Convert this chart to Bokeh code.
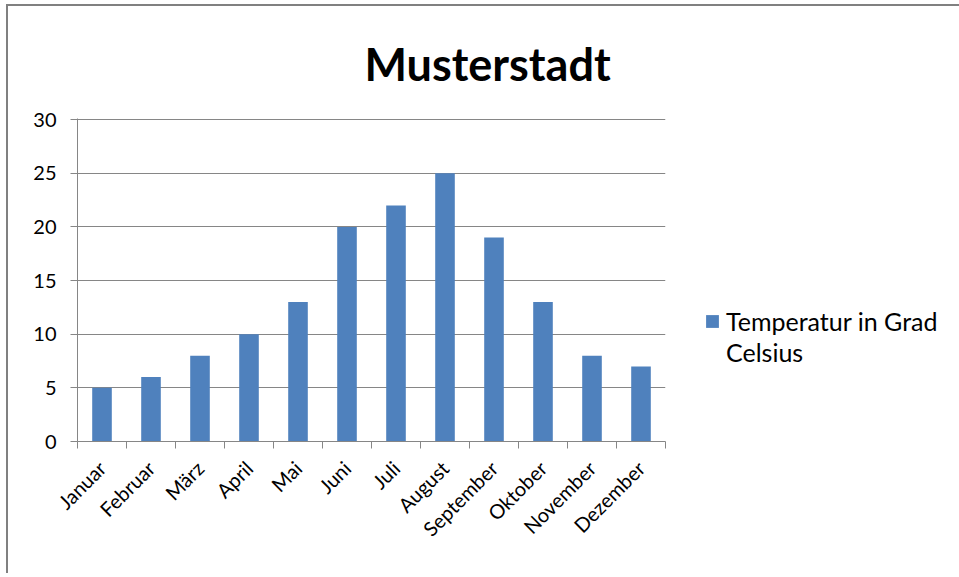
import math
from bokeh.plotting import figure
from bokeh.models import Range1d, FixedTicker, Legend, LegendItem, Title
from bokeh.embed import file_html
from bokeh.resources import INLINE

months = ["Januar", "Februar", "März", "April", "Mai", "Juni", "Juli",
          "August", "September", "Oktober", "November", "Dezember"]
temperatures = [5, 6, 8, 10, 13, 20, 22, 25, 19, 13, 8, 7]
y_ticks = [0, 5, 10, 15, 20, 25, 30]
title_text = "Musterstadt"
series_label_lines = ["Temperatur in Grad", "Celsius"]

FONT = "Lato"
GRID = "#868686"
BAR = "#4F81BD"

centers = [i + 0.5 for i in range(len(months))]
bounds = list(range(len(months) + 1))

p = figure(frame_width=588, frame_height=323,
           min_border_left=69, min_border_right=290,
           min_border_top=112, min_border_bottom=132,
           x_range=Range1d(0, len(months)), y_range=Range1d(0, 30.1),
           output_backend="svg", toolbar_location=None,
           styles={"margin-left": "6px", "margin-top": "4px",
                   "border-top": "2px solid #808080", "border-left": "2px solid #808080"})

p.title = Title(text=title_text, align="left", offset=287,
                text_font=FONT, text_font_size="45px", text_font_style="bold",
                text_color="black", standoff=56)

r = p.vbar(x=centers, top=temperatures, width=0.4, color=BAR, line_color=None)
# invisible companion renderer used only to carry the wrapped second legend line
r2 = p.vbar(x=[], top=[], width=0.4, fill_alpha=0, line_alpha=0)

p.outline_line_color = None
p.xgrid.grid_line_color = None
p.ygrid.grid_line_color = GRID
p.ygrid.grid_line_width = 1

yax = p.yaxis[0]
yax.ticker = FixedTicker(ticks=y_ticks)
yax.axis_line_color = GRID
yax.major_tick_line_color = GRID
yax.major_tick_out = 7
yax.major_tick_in = 0
yax.minor_tick_line_color = None
yax.major_label_standoff = 14
yax.major_label_text_font = FONT
yax.major_label_text_font_size = "20px"
yax.major_label_text_color = "black"

xax = p.xaxis[0]
xax.ticker = FixedTicker(ticks=centers, minor_ticks=bounds)
xax.axis_line_color = GRID
xax.major_tick_line_color = None
xax.major_tick_out = 0
xax.major_tick_in = 0
xax.minor_tick_line_color = GRID
xax.minor_tick_out = 7
xax.minor_tick_in = 0
xax.major_label_overrides = {c: m for c, m in zip(centers, months)}
xax.major_label_orientation = math.pi / 4
xax.major_label_standoff = 16
xax.major_label_text_font = FONT
xax.major_label_text_font_size = "20px"
xax.major_label_text_color = "black"

legend = Legend(items=[LegendItem(label=series_label_lines[0], renderers=[r]),
                       LegendItem(label=series_label_lines[1], renderers=[r2])],
                location=(39, 74), label_text_font=FONT, label_text_font_size="25px",
                label_text_color="black", glyph_width=16, glyph_height=16,
                border_line_color=None, background_fill_alpha=0, padding=4,
                label_standoff=6, spacing=1)
p.add_layout(legend, "right")

open("out.html", "w").write(file_html(p, INLINE))
